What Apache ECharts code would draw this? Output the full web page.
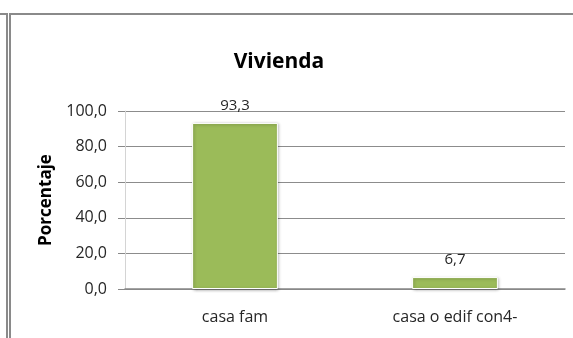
<!DOCTYPE html>
<html>
<head>
<meta charset="utf-8">
<script src="https://cdn.jsdelivr.net/npm/echarts@6/dist/echarts.min.js"></script>
<style>
  html, body { margin: 0; padding: 0; background: #ffffff; }
  #chart { width: 573px; height: 338px; }
</style>
</head>
<body>
<div id="chart"></div>
<script>
// Housing type shares (percent)
const categories = ['casa fam', 'casa o edif con4-'];
const values = [93.3, 6.7];
const yTicks = { min: 0, max: 100, step: 20 };
const titleText = 'Vivienda';
const yAxisTitle = 'Porcentaje';

// Spanish decimal comma, one decimal place
const fmt = v => Number(v).toFixed(1).replace('.', ',');

const chart = echarts.init(document.getElementById('chart'), null, { renderer: 'canvas' });

const frameColor = '#8a8a8a';

chart.setOption({
  backgroundColor: '#ffffff',
  animation: false,
  title: {
    text: titleText,
    left: 274,
    textAlign: 'center',
    top: 44,
    textStyle: {
      fontFamily: 'Open Sans',
      fontWeight: 'bold',
      fontSize: 21,
      lineHeight: 26,
      color: '#000000'
    }
  },
  grid: { left: 125, right: 8, top: 111, bottom: 49 },
  xAxis: {
    type: 'category',
    data: categories,
    axisLine: { show: true, lineStyle: { color: '#868686', width: 1.5 } },
    axisTick: { show: false },
    axisLabel: {
      margin: 20,
      fontFamily: 'Open Sans',
      fontSize: 16,
      color: '#262626'
    },
    splitLine: { show: false }
  },
  yAxis: {
    type: 'value',
    min: yTicks.min,
    max: yTicks.max,
    interval: yTicks.step,
    name: yAxisTitle,
    nameLocation: 'middle',
    nameGap: 70,
    nameRotate: 90,
    nameTextStyle: {
      fontFamily: 'Open Sans',
      fontWeight: 'bold',
      fontSize: 17,
      color: '#000000'
    },
    axisLine: { show: true, lineStyle: { color: '#d4d4d4', width: 1 } },
    axisTick: { show: true, length: 7, lineStyle: { color: '#888888' } },
    axisLabel: {
      margin: 18,
      fontFamily: 'Open Sans',
      fontSize: 16,
      color: '#262626',
      formatter: fmt
    },
    splitLine: { show: true, lineStyle: { color: '#8c8c8c', width: 1 } }
  },
  series: [{
    type: 'bar',
    data: values,
    barWidth: '39%',
    itemStyle: {
      color: '#9bbb59',
      borderColor: '#ffffff',
      borderWidth: 1,
      shadowBlur: 3,
      shadowColor: 'rgba(0,0,0,0.3)',
      shadowOffsetX: 1,
      shadowOffsetY: 1
    },
    label: {
      show: true,
      position: 'top',
      distance: 10,
      fontFamily: 'Open Sans',
      fontSize: 15,
      color: '#262626',
      formatter: p => fmt(p.value)
    }
  }],
  graphic: [
    // frame lines around the chart area
    { type: 'rect', shape: { x: 0, y: 13, width: 8, height: 2 }, style: { fill: frameColor }, silent: true },
    { type: 'rect', shape: { x: 9, y: 13, width: 564, height: 2 }, style: { fill: frameColor }, silent: true },
    { type: 'rect', shape: { x: 6, y: 15, width: 2, height: 323 }, style: { fill: frameColor }, silent: true },
    { type: 'rect', shape: { x: 9, y: 13, width: 2, height: 325 }, style: { fill: frameColor }, silent: true }
  ]
});
</script>
</body>
</html>
